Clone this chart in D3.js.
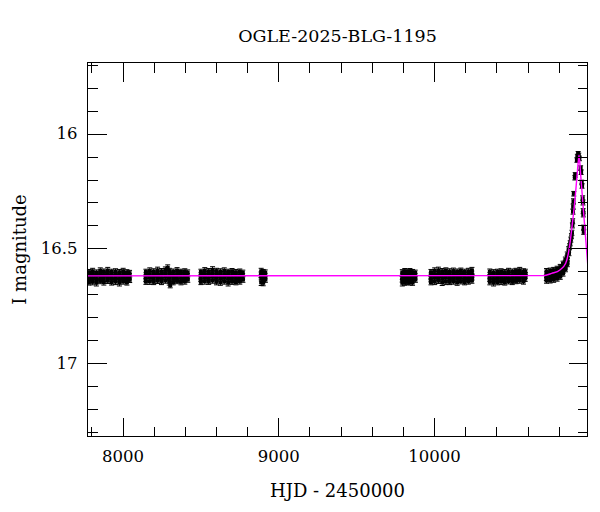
<!DOCTYPE html>
<html>
<head>
<meta charset="utf-8">
<script src="https://cdn.jsdelivr.net/npm/d3@7"></script>
<style>
  html, body { margin: 0; padding: 0; background: #fff; }
  svg { display: block; }
  text { font-family: "DejaVu Serif", serif; fill: #000; }
</style>
</head>
<body>
<svg id="chart" width="600" height="512"></svg>
<script>
// ---------------- data ----------------
const title = "OGLE-2025-BLG-1195";
const xLabel = "HJD - 2450000";
const yLabel = "I magnitude";
const xMajorTicks = [8000, 9000, 10000];
const yMajorTicks = [16, 16.5, 17];
const yTickLabels = ["16", "16.5", "17"];

// observations: [HJD-2450000, I mag, error]
const season1 = [
  [7785,16.604,.012],[7785,16.619,.012],[7786,16.634,.013],[7784,16.648,.012],
  [7808,16.600,.013],[7809,16.615,.012],[7807,16.630,.012],[7808,16.646,.013],
  [7832,16.606,.012],[7831,16.620,.012],[7833,16.635,.012],[7832,16.650,.014],
  [7857,16.598,.013],[7856,16.612,.012],[7858,16.627,.012],[7857,16.642,.012],
  [7880,16.602,.012],[7881,16.617,.012],[7879,16.632,.012],[7880,16.647,.013],
  [7905,16.597,.014],[7904,16.612,.012],[7906,16.626,.012],[7905,16.641,.012],
  [7930,16.603,.012],[7929,16.618,.012],[7931,16.633,.012],[7930,16.648,.012],
  [7955,16.601,.012],[7956,16.616,.012],[7954,16.630,.012],[7955,16.645,.013],
  [7980,16.604,.012],[7979,16.619,.012],[7981,16.634,.012],[7980,16.650,.014],
  [8004,16.600,.013],[8005,16.614,.012],[8003,16.629,.012],[8004,16.644,.012],
  [8028,16.605,.012],[8027,16.620,.012],[8029,16.635,.012],[8028,16.648,.012],
  [8045,16.608,.012],[8044,16.622,.012],[8046,16.637,.012]
];
const season2 = [
  [8150,16.603,.012],[8151,16.618,.012],[8149,16.633,.012],[8150,16.645,.012],
  [8175,16.598,.013],[8174,16.613,.012],[8176,16.628,.012],[8175,16.644,.013],
  [8200,16.601,.012],[8201,16.616,.012],[8199,16.631,.012],[8200,16.646,.012],
  [8225,16.596,.014],[8224,16.611,.012],[8226,16.626,.012],[8225,16.641,.012],
  [8250,16.600,.012],[8251,16.615,.012],[8249,16.630,.012],[8250,16.645,.013],
  [8275,16.594,.013],[8274,16.609,.012],[8276,16.624,.012],[8275,16.640,.012],
  [8290,16.585,.013],[8306,16.660,.012],
  [8300,16.599,.012],[8301,16.614,.012],[8299,16.629,.012],[8300,16.646,.014],
  [8325,16.602,.012],[8324,16.617,.012],[8326,16.632,.012],[8325,16.647,.012],
  [8350,16.597,.013],[8351,16.612,.012],[8349,16.627,.012],[8350,16.642,.012],
  [8375,16.603,.012],[8374,16.618,.012],[8376,16.633,.012],[8375,16.646,.013],
  [8400,16.601,.012],[8401,16.616,.012],[8399,16.631,.012],[8400,16.644,.012],
  [8418,16.606,.012],[8417,16.621,.012],[8419,16.636,.012]
];
const season3 = [
  [8503,16.603,.012],[8504,16.618,.012],[8502,16.633,.012],[8503,16.646,.012],
  [8528,16.597,.013],[8527,16.612,.012],[8529,16.627,.012],[8528,16.643,.013],
  [8553,16.600,.012],[8554,16.615,.012],[8552,16.630,.012],[8553,16.645,.012],
  [8578,16.594,.014],[8577,16.609,.012],[8579,16.624,.012],[8578,16.640,.012],
  [8603,16.599,.012],[8604,16.614,.012],[8602,16.629,.012],[8603,16.646,.013],
  [8628,16.601,.012],[8627,16.616,.012],[8629,16.631,.012],[8628,16.648,.013],
  [8653,16.598,.013],[8654,16.613,.012],[8652,16.628,.012],[8653,16.644,.012],
  [8678,16.603,.012],[8677,16.618,.012],[8679,16.633,.012],[8678,16.650,.014],
  [8703,16.600,.012],[8704,16.615,.012],[8702,16.630,.012],[8703,16.645,.012],
  [8728,16.604,.012],[8727,16.619,.012],[8729,16.634,.012],[8728,16.647,.012],
  [8753,16.602,.012],[8754,16.617,.012],[8752,16.632,.012],[8753,16.644,.012],
  [8772,16.607,.012],[8771,16.622,.012],[8773,16.636,.012]
];
const season4 = [
  [8890,16.600,.013],[8889,16.615,.012],[8891,16.630,.012],[8890,16.648,.014],
  [8903,16.604,.012],[8904,16.619,.012],[8902,16.634,.012],[8903,16.650,.013],
  [8916,16.606,.012],[8915,16.621,.012],[8917,16.636,.012]
];
const season5 = [
  [9796,16.605,.012],[9797,16.620,.012],[9795,16.635,.012],[9796,16.650,.014],
  [9812,16.601,.013],[9811,16.616,.012],[9813,16.631,.012],[9812,16.648,.013],
  [9828,16.603,.012],[9829,16.618,.012],[9827,16.633,.012],[9828,16.646,.012],
  [9845,16.600,.012],[9844,16.615,.012],[9846,16.630,.012],[9845,16.647,.013],
  [9862,16.604,.012],[9863,16.619,.012],[9861,16.634,.012],[9862,16.649,.012],
  [9879,16.607,.012],[9878,16.622,.012],[9880,16.636,.012]
];
const season6 = [
  [9980,16.604,.012],[9981,16.619,.012],[9979,16.634,.012],[9980,16.647,.012],
  [10004,16.598,.013],[10003,16.613,.012],[10005,16.628,.012],[10004,16.645,.013],
  [10028,16.596,.014],[10029,16.611,.012],[10027,16.626,.012],[10028,16.641,.012],
  [10052,16.600,.012],[10051,16.615,.012],[10053,16.630,.012],[10052,16.648,.014],
  [10076,16.597,.012],[10077,16.612,.012],[10075,16.627,.012],[10076,16.645,.013],
  [10100,16.601,.012],[10099,16.616,.012],[10101,16.631,.012],[10100,16.646,.012],
  [10124,16.599,.013],[10125,16.614,.012],[10123,16.629,.012],[10124,16.644,.012],
  [10148,16.602,.012],[10147,16.617,.012],[10149,16.632,.012],[10148,16.648,.013],
  [10172,16.598,.012],[10173,16.613,.012],[10171,16.628,.012],[10172,16.643,.012],
  [10196,16.603,.012],[10195,16.618,.012],[10197,16.633,.012],[10196,16.647,.012],
  [10220,16.600,.013],[10221,16.615,.012],[10219,16.630,.012],[10220,16.644,.012],
  [10243,16.596,.013],[10242,16.611,.012],[10244,16.626,.012],[10243,16.640,.012]
];
const season7 = [
  [10358,16.602,.012],[10359,16.617,.012],[10357,16.632,.012],[10358,16.646,.013],
  [10382,16.605,.012],[10381,16.620,.012],[10383,16.635,.012],[10382,16.650,.014],
  [10406,16.603,.012],[10407,16.618,.012],[10405,16.633,.012],[10406,16.647,.012],
  [10430,16.601,.012],[10429,16.616,.012],[10431,16.631,.012],[10430,16.645,.013],
  [10454,16.604,.012],[10455,16.619,.012],[10453,16.634,.012],[10454,16.648,.012],
  [10478,16.600,.013],[10477,16.615,.012],[10479,16.630,.012],[10478,16.643,.012],
  [10502,16.602,.012],[10503,16.617,.012],[10501,16.632,.012],[10502,16.646,.012],
  [10526,16.599,.012],[10525,16.614,.012],[10527,16.629,.012],[10526,16.642,.012],
  [10550,16.596,.013],[10551,16.611,.012],[10549,16.626,.012],[10550,16.640,.012],
  [10574,16.601,.012],[10573,16.616,.012],[10575,16.631,.012],[10574,16.644,.012],
  [10586,16.603,.012],[10587,16.618,.012],[10585,16.632,.012]
];
const season8 = [
  [10722,16.600,.012],[10723,16.614,.012],[10721,16.628,.012],[10722,16.640,.012],
  [10745,16.598,.012],[10744,16.612,.012],[10746,16.626,.012],[10745,16.639,.012],
  [10768,16.595,.012],[10769,16.609,.012],[10767,16.623,.012],[10768,16.636,.012],
  [10790,16.590,.012],[10789,16.604,.012],[10791,16.618,.012],[10790,16.631,.012],
  [10810,16.582,.012],[10811,16.596,.012],[10809,16.610,.012],[10810,16.623,.012],
  [10828,16.568,.012],[10827,16.582,.012],[10829,16.596,.012],[10828,16.609,.012],
  [10843,16.550,.012],[10842,16.564,.012],[10844,16.578,.012],[10843,16.590,.012],
  [10855,16.528,.012],[10854,16.542,.012],[10856,16.556,.012],[10855,16.568,.012],
  [10864,16.505,.012],[10866,16.520,.012],[10870,16.492,.012],[10874,16.478,.011],
  [10878,16.462,.011],[10882,16.447,.011],[10885,16.432,.011],[10888,16.400,.011],
  [10890,16.382,.011],[10892,16.340,.011],[10893,16.318,.011],[10895,16.295,.011],
  [10897,16.262,.010],[10904,16.192,.010],[10906,16.180,.010],[10917,16.115,.010],
  [10920,16.100,.010],[10925,16.088,.010],[10929,16.095,.010],[10933,16.108,.010],
  [10941,16.150,.010],[10944,16.168,.010],[10948,16.213,.010],[10950,16.228,.010],
  [10954,16.282,.011],[10956,16.300,.011],[10957,16.338,.011],[10958,16.352,.011],
  [10960,16.410,.011],[10961,16.428,.011]
];

// microlensing model curve
const modelT = [7700, 10700, 10755, 10808, 10845, 10862, 10875, 10888, 10900, 10910, 10919, 10926, 10931, 10940, 10955, 10970, 10990];
const modelM = [16.620, 16.619, 16.609, 16.594, 16.565, 16.522, 16.465, 16.39, 16.319, 16.245, 16.174, 16.12, 16.094, 16.17, 16.30, 16.43, 16.60];

// ---------------- chart ----------------
const W = 600, H = 512;
const L = 87.5, R = 587.5, T = 62.5, B = 436.5;
const svg = d3.select("#chart");
svg.append("rect").attr("width", W).attr("height", H).attr("fill", "#fff");

const x = d3.scaleLinear().domain([7775, 10985]).range([L, R]);
const y = d3.scaleLinear().domain([15.69, 17.32]).range([T, B]);

svg.append("defs").append("clipPath").attr("id", "clip")
  .append("rect").attr("x", L).attr("y", T).attr("width", R - L).attr("height", B - T);

const obs = [].concat(season1, season2, season3, season4, season5, season6, season7, season8)
  .map(d => ({t: d[0], m: d[1], e: d[2]}));

const plot = svg.append("g").attr("clip-path", "url(#clip)");
const pts = plot.append("g");
const cap = 2.5, sq = 4;
pts.selectAll("path.err").data(obs).join("path")
  .attr("class", "err")
  .attr("d", d => {
    const cx = x(d.t), y1 = y(d.m - d.e), y2 = y(d.m + d.e);
    return `M${cx},${y1}V${y2}M${cx - cap},${y1}H${cx + cap}M${cx - cap},${y2}H${cx + cap}`;
  })
  .attr("stroke", "#000").attr("stroke-width", 1).attr("fill", "none");
pts.selectAll("rect.pt").data(obs).join("rect")
  .attr("class", "pt")
  .attr("x", d => x(d.t) - sq / 2).attr("y", d => y(d.m) - sq / 2)
  .attr("width", sq).attr("height", sq).attr("fill", "#000");

const model = modelT.map((t, i) => [t, modelM[i]]);
plot.append("path").datum(model)
  .attr("d", d3.line().x(d => x(d[0])).y(d => y(d[1])).curve(d3.curveMonotoneX))
  .attr("fill", "none").attr("stroke", "#ff00ff").attr("stroke-width", 1.4);

// axes: major and minor ticks on all four sides (inward)
const xMinor = d3.range(7800, 11000, 200).filter(v => !xMajorTicks.includes(v));
const yMinor = d3.range(15.7, 17.31, 0.1).map(v => +v.toFixed(1)).filter(v => !yMajorTicks.includes(v));
const fontPx = 16.5;

function styleAxis(g) {
  g.select(".domain").remove();
  g.selectAll(".tick line").attr("stroke", "#000").attr("shape-rendering", "crispEdges");
  g.selectAll(".tick text").attr("font-family", "DejaVu Serif").attr("font-size", fontPx).attr("fill", "#000");
}

svg.append("g").attr("transform", `translate(0,${B})`)
  .call(d3.axisBottom(x).tickValues(xMajorTicks).tickSize(-19).tickPadding(14).tickFormat(d3.format("d")))
  .call(styleAxis);
svg.append("g").attr("transform", `translate(0,${B})`)
  .call(d3.axisBottom(x).tickValues(xMinor).tickSize(-10).tickFormat(""))
  .call(styleAxis);
svg.append("g").attr("transform", `translate(0,${T})`)
  .call(d3.axisTop(x).tickValues(xMajorTicks).tickSize(-19).tickFormat(""))
  .call(styleAxis);
svg.append("g").attr("transform", `translate(0,${T})`)
  .call(d3.axisTop(x).tickValues(xMinor).tickSize(-10).tickFormat(""))
  .call(styleAxis);

svg.append("g").attr("transform", `translate(${L},0)`)
  .call(d3.axisLeft(y).tickValues(yMajorTicks).tickSize(-19).tickPadding(10)
    .tickFormat((d, i) => yTickLabels[i]))
  .call(styleAxis);
svg.append("g").attr("transform", `translate(${L},0)`)
  .call(d3.axisLeft(y).tickValues(yMinor).tickSize(-10).tickFormat(""))
  .call(styleAxis);
svg.append("g").attr("transform", `translate(${R},0)`)
  .call(d3.axisRight(y).tickValues(yMajorTicks).tickSize(-19).tickFormat(""))
  .call(styleAxis);
svg.append("g").attr("transform", `translate(${R},0)`)
  .call(d3.axisRight(y).tickValues(yMinor).tickSize(-10).tickFormat(""))
  .call(styleAxis);

// frame
svg.append("rect").attr("x", L).attr("y", T).attr("width", R - L).attr("height", B - T)
  .attr("fill", "none").attr("stroke", "#000").attr("stroke-width", 1).attr("shape-rendering", "crispEdges");

// titles
svg.append("text").attr("x", (L + R) / 2).attr("y", 42).attr("text-anchor", "middle")
  .attr("font-size", 17.5).text(title);
svg.append("text").attr("x", (L + R) / 2).attr("y", 497).attr("text-anchor", "middle")
  .attr("font-size", 18).text(xLabel);
svg.append("text").attr("transform", `translate(26,${(T + B) / 2}) rotate(-90)`)
  .attr("text-anchor", "middle").attr("font-size", 18).text(yLabel);
</script>
</body>
</html>
